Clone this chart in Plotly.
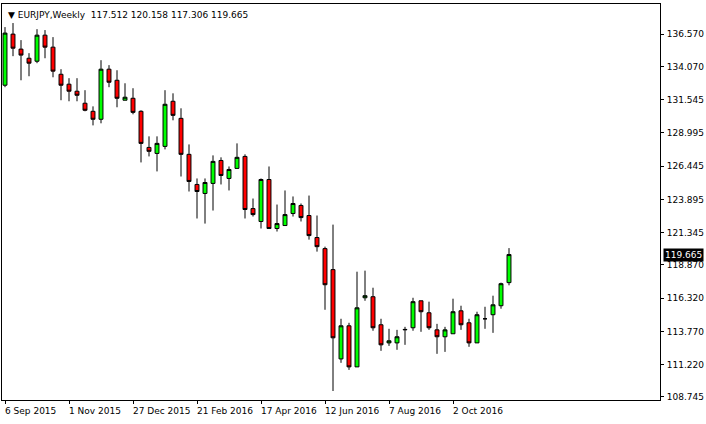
import plotly.graph_objects as go

week_index = list(range(64))
opens = [132.65,136.57,135.42,134.72,134.49,136.49,135.57,133.49,132.73,132.19,131.27,130.65,130.04,133.88,133.03,131.50,131.65,130.65,127.88,127.42,127.96,131.42,130.11,127.35,125.04,124.35,125.12,126.88,125.50,126.27,127.19,123.19,122.20,125.42,121.66,121.89,122.81,123.43,122.66,120.97,120.12,118.51,111.66,114.20,111.05,116.35,116.43,114.28,112.89,112.89,113.89,114.05,116.12,115.20,113.89,113.36,113.59,115.35,114.43,112.89,114.74,115.05,115.74,117.512]
highs = [137.11,137.42,136.11,135.11,136.95,136.88,136.34,133.88,133.19,133.19,132.27,131.03,134.57,134.19,133.80,132.80,132.42,130.73,128.73,128.73,132.27,132.03,130.88,128.11,125.50,125.50,127.27,127.12,126.42,128.19,127.35,123.96,125.50,126.42,123.50,124.58,124.12,123.58,124.19,122.66,120.27,121.96,114.74,114.43,118.35,118.43,117.12,114.74,113.97,113.89,114.12,116.35,116.12,116.05,114.35,114.12,116.28,115.74,114.74,115.28,115.66,116.51,117.51,120.158]
lows = [132.50,134.88,133.03,133.34,134.34,134.72,133.26,131.50,131.42,131.42,130.65,129.57,129.73,132.50,130.96,131.50,130.42,126.73,127.19,126.04,127.73,129.96,125.65,124.50,122.43,122.04,123.04,125.04,124.58,126.27,122.43,122.58,121.66,121.66,121.43,121.89,122.58,122.20,120.81,119.89,115.43,109.20,111.36,110.82,111.05,116.12,113.82,112.28,112.66,112.36,112.74,113.82,113.74,113.89,112.05,112.20,113.59,113.89,112.59,112.89,113.97,113.66,115.51,117.306]
closes = [136.65,135.49,134.96,134.34,136.49,135.57,133.73,132.65,132.19,131.88,130.73,130.04,133.88,132.88,131.65,131.73,130.57,128.19,127.58,128.19,131.19,130.34,127.35,125.27,124.50,125.19,126.81,125.73,126.19,127.12,123.12,122.73,125.42,121.66,122.04,122.73,123.58,122.50,121.12,120.27,117.35,113.28,114.20,111.05,115.58,116.51,114.05,112.74,113.05,113.36,113.92,116.05,115.28,114.05,113.36,113.89,115.28,114.28,112.89,115.05,114.74,115.81,117.43,119.665]

date_ticks = [0, 8, 16, 24, 32, 40, 48, 56]
date_labels = ["6 Sep 2015", "1 Nov 2015", "27 Dec 2015", "21 Feb 2016",
               "17 Apr 2016", "12 Jun 2016", "7 Aug 2016", "2 Oct 2016"]
price_ticks = [136.570, 134.070, 131.545, 128.995, 126.445, 123.895,
               121.345, 118.870, 116.320, 113.770, 111.220, 108.745]
last_price = 119.665

fig = go.Figure(go.Candlestick(
    x=week_index, open=opens, high=highs, low=lows, close=closes,
    increasing=dict(fillcolor="#00FF00", line=dict(color="black", width=1)),
    decreasing=dict(fillcolor="#FF0000", line=dict(color="black", width=1)),
    whiskerwidth=0, showlegend=False, hoverinfo="skip"))

fig.update_layout(
    width=706, height=424, margin=dict(l=2, r=46, t=4, b=24),
    paper_bgcolor="white", plot_bgcolor="white",
    font=dict(family="DejaVu Sans", size=9, color="black"),
    xaxis=dict(range=[-0.375, 81.875], rangeslider=dict(visible=False),
               showgrid=False, zeroline=False, showticklabels=False,
               tickvals=date_ticks, ticks="outside", ticklen=3, tickcolor="black",
               showline=True, linecolor="black", mirror=True),
    yaxis=dict(range=[108.51, 138.88], side="right", showgrid=False, zeroline=False,
               tickvals=price_ticks, ticktext=[f"{v:.3f}" for v in price_ticks],
               ticks="outside", ticklen=3, tickcolor="black", ticklabelstandoff=1,
               tickfont=dict(size=9),
               showline=True, linecolor="black", mirror=True),
)
for t, lab in zip(date_ticks, date_labels):
    fig.add_annotation(x=t, y=0, xref="x", yref="paper", text=lab, showarrow=False,
                       xanchor="left", yanchor="top", xshift=-2, yshift=-4,
                       font=dict(size=9))
fig.add_annotation(x=1, y=last_price, xref="paper", yref="y", text=f"{last_price:.3f}",
                   showarrow=False, xanchor="left", xshift=3, bgcolor="black",
                   font=dict(color="white", size=9), borderpad=1)
fig.add_annotation(x=0, y=1, xref="paper", yref="paper",
                   text="▼ EURJPY,Weekly  117.512 120.158 117.306 119.665",
                   showarrow=False, xanchor="left", yanchor="top", xshift=4, yshift=-4,
                   font=dict(size=9))
fig.write_html("out.html", config={"displayModeBar": False},
               post_script="document.body.style.margin='0';document.body.style.padding='0';")
